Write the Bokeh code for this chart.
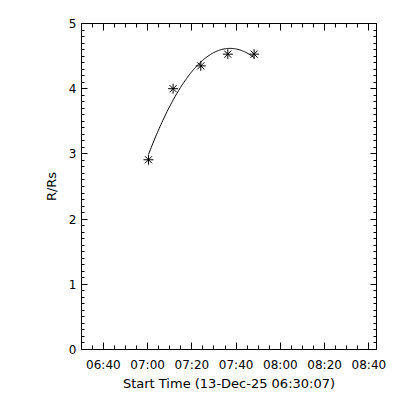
import numpy as np
from bokeh.plotting import figure
from bokeh.models import LinearAxis, FixedTicker, Range1d
from bokeh.embed import file_html
from bokeh.resources import INLINE

# ---- data ----
start_time = "06:30:07"
date_label = "13-Dec-25"
obs_times = ["07:00:24", "07:11:31", "07:24:02", "07:36:14", "07:48:08"]
heights = [2.91, 4.00, 4.35, 4.53, 4.53]
x_tick_labels = ["06:40", "07:00", "07:20", "07:40", "08:00", "08:20", "08:40"]
y_ticks = [0, 1, 2, 3, 4, 5]
x_span_seconds = 8000


def secs(s):
    parts = [int(v) for v in s.split(":")]
    while len(parts) < 3:
        parts.append(0)
    return parts[0] * 3600 + parts[1] * 60 + parts[2]


t0 = secs(start_time)
tx = [secs(t) - t0 for t in obs_times]
xt = [secs(t) - t0 for t in x_tick_labels]
x_minor = [xt[0] - 1200 + 300 * i for i in range(0, 40)]
y_minor = [round(0.1 * i, 1) for i in range(0, 51)]

# quadratic fit through the measured heights
coef = np.polyfit(tx, heights, 2)
tf = np.linspace(tx[0], tx[-1], 120)
yf = np.polyval(coef, tf)

FONT = "DejaVu Sans"
FS = "12px"

p = figure(frame_width=295, frame_height=326,
           x_range=Range1d(0, x_span_seconds), y_range=Range1d(0, 5),
           output_backend="svg", toolbar_location=None,
           min_border_left=81, min_border_right=16,
           min_border_top=23, min_border_bottom=43,
           background_fill_color="white", border_fill_color="white")
p.grid.visible = False
p.outline_line_color = "black"
p.outline_line_width = 1

xticker = FixedTicker(ticks=xt, minor_ticks=x_minor)
yticker = FixedTicker(ticks=y_ticks, minor_ticks=y_minor)

xa = p.xaxis[0]
xa.ticker = xticker
xa.major_label_overrides = {v: lab for v, lab in zip(xt, x_tick_labels)}
xa.axis_label = f"Start Time ({date_label} {start_time})"

ya = p.yaxis[0]
ya.ticker = yticker
ya.axis_label = "R/Rs"

top = LinearAxis(ticker=xticker)
right = LinearAxis(ticker=yticker)
p.add_layout(top, "above")
p.add_layout(right, "right")

for ax in (xa, top):
    ax.major_tick_in = 7
    ax.minor_tick_in = 4
for ax in (ya, right):
    ax.major_tick_in = 6
    ax.minor_tick_in = 3

for ax in (xa, ya, top, right):
    ax.major_tick_out = 0
    ax.minor_tick_out = 0
    ax.axis_line_color = "black"
    ax.major_tick_line_color = "black"
    ax.minor_tick_line_color = "black"
    ax.major_label_text_font = FONT
    ax.major_label_text_font_size = FS
    ax.major_label_text_color = "black"
    ax.axis_label_text_font = FONT
    ax.axis_label_text_font_size = "13px"
    ax.axis_label_text_font_style = "normal"
    ax.axis_label_text_color = "black"

top.major_label_overrides = {v: "" for v in xt}
right.major_label_overrides = {v: "" for v in y_ticks}
for ax in (top, right):
    ax.major_label_standoff = 0

xa.major_label_standoff = 8
xa.axis_label_standoff = 1
ya.major_label_standoff = 5
ya.axis_label_standoff = 7

p.line(tf, yf, line_color="black", line_width=1)
p.scatter(tx, heights, marker="asterisk", size=10, line_color="black", line_width=1)

open("out.html", "w").write(file_html(p, INLINE))
